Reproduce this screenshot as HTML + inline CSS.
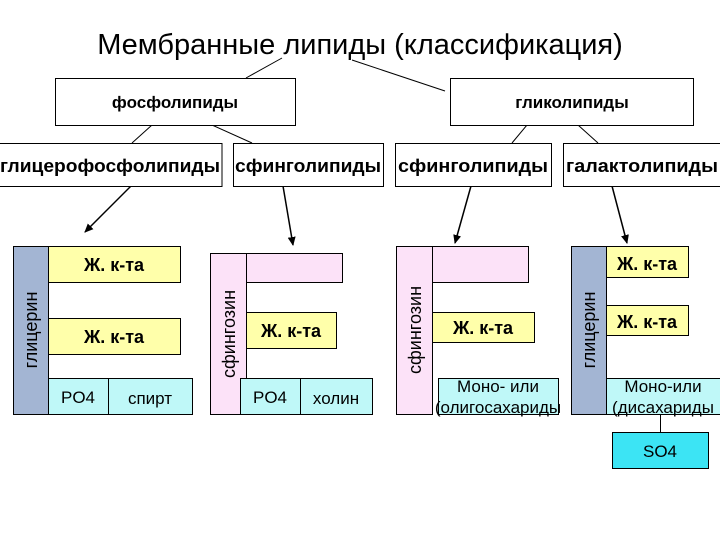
<!DOCTYPE html>
<html><head><meta charset="utf-8"><style>
body{margin:0;background:#fff}
svg text{font-family:"Liberation Sans",sans-serif}
</style></head><body>
<svg width="720" height="540" viewBox="0 0 720 540" xmlns="http://www.w3.org/2000/svg">
<defs><marker id="a" markerWidth="10" markerHeight="10" refX="8" refY="5" orient="auto" markerUnits="userSpaceOnUse"><path d="M0,1 L9,5 L0,9 z" fill="#000"/></marker></defs>
<rect width="720" height="540" fill="#fff"/>
<text x="360" y="54" font-size="29" text-anchor="middle">Мембранные липиды (классификация)</text>
<g stroke="#000" stroke-width="1" fill="none">
<line x1="282" y1="58" x2="246" y2="78"/>
<line x1="352" y1="60" x2="445" y2="91"/>
<line x1="152" y1="125" x2="132" y2="143"/>
<line x1="212" y1="125" x2="252" y2="143"/>
<line x1="527" y1="125" x2="512" y2="143"/>
<line x1="578" y1="125" x2="598" y2="143"/>
</g>
<g stroke="#000" stroke-width="1.5" marker-end="url(#a)">
<line x1="131" y1="186" x2="85" y2="232"/>
<line x1="283" y1="186" x2="293" y2="245"/>
<line x1="471" y1="186" x2="455" y2="243"/>
<line x1="612" y1="186" x2="627" y2="243"/>
</g>
<g fill="#fff" stroke="#000">
<rect x="55.5" y="78.5" width="240" height="47"/>
<rect x="450.5" y="78.5" width="243" height="47"/>
<rect x="-1" y="143.5" width="223" height="43"/>
<rect x="233.5" y="143.5" width="150" height="43"/>
<rect x="395.5" y="143.5" width="156" height="43"/>
<rect x="563.5" y="143.5" width="160" height="43"/>
</g>
<g font-size="17" font-weight="bold" text-anchor="middle">
<text x="175" y="108">фосфолипиды</text>
<text x="572" y="108">гликолипиды</text>
</g>
<g font-size="18" font-weight="bold">
<text x="0" y="172" textLength="220" lengthAdjust="spacingAndGlyphs">глицерофосфолипиды</text>
<text x="235" y="172" textLength="146" lengthAdjust="spacingAndGlyphs">сфинголипиды</text>
<text x="398" y="172" textLength="150" lengthAdjust="spacingAndGlyphs">сфинголипиды</text>
<text x="566" y="172" textLength="152" lengthAdjust="spacingAndGlyphs">галактолипиды</text>
</g>
<g stroke="#000">
<rect x="13.5" y="246.5" width="35" height="168" fill="#a3b5d3"/>
<rect x="48.5" y="246.5" width="132" height="36" fill="#ffffaa"/>
<rect x="48.5" y="318.5" width="132" height="36" fill="#ffffaa"/>
<rect x="48.5" y="378.5" width="60" height="36" fill="#bff8f8"/>
<rect x="108.5" y="378.5" width="84" height="36" fill="#bff8f8"/>
<rect x="210.5" y="253.5" width="36" height="161" fill="#fce2f8"/>
<rect x="246.5" y="253.5" width="96" height="29" fill="#fce2f8"/>
<rect x="246.5" y="312.5" width="90" height="36" fill="#ffffaa"/>
<rect x="240.5" y="378.5" width="60" height="36" fill="#bff8f8"/>
<rect x="300.5" y="378.5" width="72" height="36" fill="#bff8f8"/>
<rect x="396.5" y="246.5" width="36" height="168" fill="#fce2f8"/>
<rect x="432.5" y="246.5" width="96" height="36" fill="#fce2f8"/>
<rect x="432.5" y="312.5" width="102" height="30" fill="#ffffaa"/>
<rect x="438.5" y="378.5" width="120" height="36" fill="#bff8f8"/>
<rect x="571.5" y="246.5" width="35" height="168" fill="#a3b5d3"/>
<rect x="606.5" y="246.5" width="82" height="31" fill="#ffffaa"/>
<rect x="606.5" y="305.5" width="82" height="30" fill="#ffffaa"/>
<rect x="606.5" y="378.5" width="114" height="36" fill="#bff8f8"/>
<line x1="660.5" y1="414" x2="660.5" y2="432"/>
<rect x="612.5" y="432.5" width="96" height="36" fill="#3ce4f4"/>
</g>
<g font-size="18" font-weight="bold" text-anchor="middle">
<text x="114" y="271">Ж. к-та</text>
<text x="114" y="343">Ж. к-та</text>
<text x="291" y="337">Ж. к-та</text>
<text x="483" y="334">Ж. к-та</text>
<text x="647" y="270">Ж. к-та</text>
<text x="647" y="328">Ж. к-та</text>
</g>
<g font-size="17" text-anchor="middle">
<text x="78" y="403">PO4</text>
<text x="150" y="404">спирт</text>
<text x="270" y="403">PO4</text>
<text x="336" y="404">холин</text>
<text x="498" y="392">Моно- или</text>
<text x="498" y="413">(олигосахариды</text>
<text x="663" y="392">Моно-или</text>
<text x="663" y="413">(дисахариды</text>
<text x="660" y="457">SO4</text>
<text transform="translate(37,330) rotate(-90)" font-size="18">глицерин</text>
<text transform="translate(235,334) rotate(-90)" font-size="18">сфингозин</text>
<text transform="translate(421,330) rotate(-90)" font-size="18">сфингозин</text>
<text transform="translate(595,330) rotate(-90)" font-size="18">глицерин</text>
</g>
</svg>
</body></html>
